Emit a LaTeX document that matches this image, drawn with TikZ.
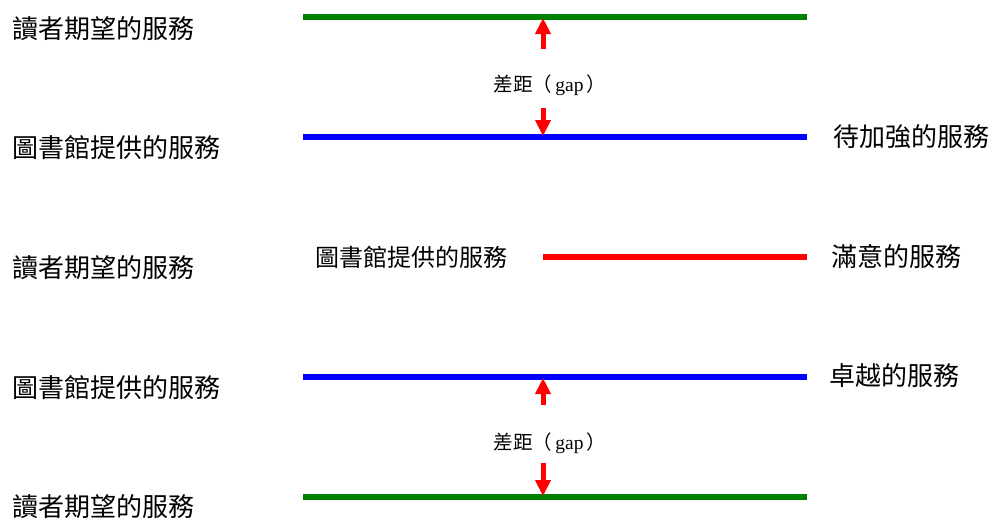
\documentclass[tikz,border=0pt]{standalone}
\usepackage{fontspec}
\setmainfont{Liberation Serif}
\newfontfamily\cjk{Noto Sans CJK TC}
\usetikzlibrary{arrows.meta}
\definecolor{lgreen}{RGB}{0,128,0}
\definecolor{lblue}{RGB}{0,0,255}
\definecolor{lred}{RGB}{255,0,0}
\begin{document}
\begin{tikzpicture}[x=1pt,y=-1pt,
  lbl/.style={font=\cjk\fontsize{26}{26}\selectfont, inner sep=0pt, anchor=west},
  midlbl/.style={font=\cjk\fontsize{24}{24}\selectfont, inner sep=0pt},
  gaplbl/.style={font=\fontsize{19.5}{19.5}\selectfont, inner sep=0pt},
  bar/.style={line width=6pt},
  gaparrow/.style={draw=lred, line width=5pt, -{Triangle[length=16pt,width=15pt]}}
]
\useasboundingbox (0,0) rectangle (992,523);

% left labels
\node[lbl] (l1) at (12,29) {讀者期望的服務};
\node[lbl] (l2) at (12,148) {圖書館提供的服務};
\node[lbl] (l3) at (12,268) {讀者期望的服務};
\node[lbl] (l4) at (12,388) {圖書館提供的服務};
\node[lbl] (l5) at (12,507) {讀者期望的服務};

% right labels
\node[lbl] (r1) at (833,137) {待加強的服務};
\node[lbl] (r2) at (831,257) {滿意的服務};
\node[lbl] (r3) at (829,376) {卓越的服務};

% lines
\coordinate (g1a) at (303,17);  \coordinate (g1b) at (807,17);
\coordinate (b1a) at (303,137); \coordinate (b1b) at (807,137);
\coordinate (ra)  at (543,257); \coordinate (rb)  at (807,257);
\coordinate (b2a) at (303,377); \coordinate (b2b) at (807,377);
\coordinate (g2a) at (303,497); \coordinate (g2b) at (807,497);
\draw[bar, lgreen] (g1a) -- (g1b);
\draw[bar, lblue] (b1a) -- (b1b);
\draw[bar, lred] (ra) -- (rb);
\draw[bar, lblue] (b2a) -- (b2b);
\draw[bar, lgreen] (g2a) -- (g2b);

\node[midlbl] (m) at (411,257) {圖書館提供的服務};

% upper gap
\node[gaplbl] (gap1) at (550,85) {{\cjk 差距（}\,gap\,{\cjk ）}};
\coordinate (u1s) at (543,49);  \coordinate (u1t) at (543,18);
\coordinate (d1s) at (543,108); \coordinate (d1t) at (543,136);
\draw[gaparrow] (u1s) -- (u1t);
\draw[gaparrow] (d1s) -- (d1t);

% lower gap
\node[gaplbl] (gap2) at (550,443) {{\cjk 差距（}\,gap\,{\cjk ）}};
\coordinate (u2s) at (543,405); \coordinate (u2t) at (543,378);
\coordinate (d2s) at (543,463); \coordinate (d2t) at (543,496);
\draw[gaparrow] (u2s) -- (u2t);
\draw[gaparrow] (d2s) -- (d2t);
\end{tikzpicture}
\end{document}
